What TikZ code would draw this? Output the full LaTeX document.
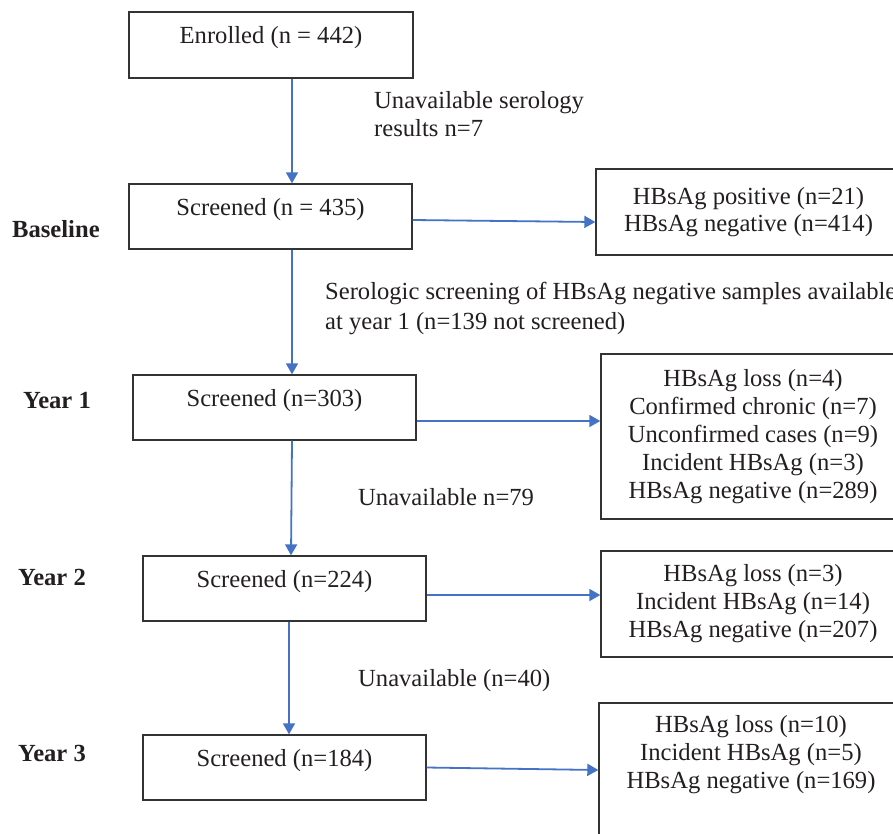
\documentclass[tikz,border=0pt]{standalone}
\usepackage{fontspec}
\setmainfont{Liberation Serif}
\usetikzlibrary{arrows.meta}
\definecolor{arrblue}{HTML}{4472C4}
\definecolor{boxline}{HTML}{333333}
\definecolor{ink}{HTML}{231F20}
\tikzset{
  lbox/.style={draw=boxline, line width=1.4pt, rectangle, inner sep=0pt,
    text height=17pt, text depth=20pt},
  rbox/.style={draw=boxline, line width=1.4pt, rectangle, inner sep=0pt, align=center},
  txt/.style={inner sep=0pt, align=left},
  yr/.style={inner sep=0pt, font=\bfseries, anchor=west},
  arr/.style={draw=arrblue, line width=1.8pt, -{Triangle[length=11pt,width=12pt]}}
}
\begin{document}
\begin{tikzpicture}[x=1pt,y=-1pt, every node/.style={text=ink}]
\fontsize{24.6}{28}\selectfont
\useasboundingbox (0,0) rectangle (893,833);
\clip (0,0) rectangle (893,833);
% left boxes
\node[lbox, minimum width=284pt, minimum height=66pt] (en) at (271,45) {Enrolled (n = 442)};
\node[lbox, minimum width=283pt, minimum height=65pt] (s0) at (270.5,216.5) {Screened (n = 435)};
\node[lbox, minimum width=283pt, minimum height=65pt] (s1) at (274.5,407.5) {Screened (n=303)};
\node[lbox, minimum width=283pt, minimum height=65pt] (s2) at (284.5,588.5) {Screened (n=224)};
\node[lbox, minimum width=283pt, minimum height=65pt] (s3) at (284.5,767.5) {Screened (n=184)};
% right boxes
\node[rbox, minimum width=305pt, minimum height=86pt] (b0) at (748.5,212)
  {HBsAg positive (n=21)\\[-1pt]HBsAg negative (n=414)};
\node[rbox, minimum width=304pt, minimum height=165pt] (b1) at (753,436.5)
  {HBsAg loss (n=4)\\Confirmed chronic (n=7)\\Unconfirmed cases (n=9)\\Incident HBsAg (n=3)\\HBsAg negative (n=289)};
\node[rbox, minimum width=304pt, minimum height=106pt] (b2) at (753,604)
  {HBsAg loss (n=3)\\Incident HBsAg (n=14)\\HBsAg negative (n=207)};
\node[rbox, minimum width=304pt, minimum height=160pt] (b3) at (751,783) {};
\node[txt, align=center, anchor=north] (b3t) at (751,715.4)
  {HBsAg loss (n=10)\\Incident HBsAg (n=5)\\HBsAg negative (n=169)};
% year labels
\node[yr] (lb) at (12,229) {Baseline};
\node[yr] (l1) at (23,400) {Year 1};
\node[yr] (l2) at (18,577) {Year 2};
\node[yr] (l3) at (18,753) {Year 3};
% side texts
\node[txt, anchor=north west] (u0) at (374,91.4) {Unavailable serology\\results n=7};
\node[txt, anchor=north west, font=\fontsize{24.6}{30}\selectfont] (sc) at (325,282.4)
  {Serologic screening of HBsAg negative samples available\\at year 1 (n=139 not screened)};
\node[txt, anchor=west] (u1) at (358,497) {Unavailable n=79};
\node[txt, anchor=west] (u2) at (358,681) {Unavailable (n=40)};
% vertical arrows
\draw[arr] ([xshift=21pt]en.south) -- ([xshift=21.5pt]s0.north);
\draw[arr] ([xshift=21.5pt]s0.south) -- ([xshift=17.5pt]s1.north);
\draw[arr] ([xshift=17.5pt]s1.south) -- ([xshift=6.5pt]s2.north);
\draw[arr] ([xshift=4.5pt]s2.south) -- ([xshift=4.5pt]s3.north);
% horizontal arrows
\draw[arr] ([yshift=-3.5pt]s0.east) -- ([yshift=-10pt]b0.west);
\draw[arr] ([yshift=-13.5pt]s1.east) -- ([yshift=15.5pt]b1.west);
\draw[arr] ([yshift=-6.5pt]s2.east) -- ([yshift=9pt]b2.west);
\draw[arr] (s3.east) -- ([yshift=13pt]b3.west);
\end{tikzpicture}
\end{document}
